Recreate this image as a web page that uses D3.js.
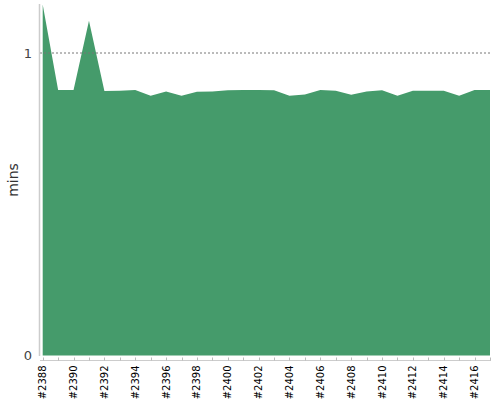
<!DOCTYPE html>
<html><head><meta charset="utf-8">
<script src="https://cdn.jsdelivr.net/npm/d3@7"></script>
<style>body{margin:0;background:#fff}svg{display:block;font-family:"DejaVu Sans",sans-serif}</style>
</head><body><svg id="c" width="500" height="400"></svg>
<script>
const builds = d3.range(2388, 2418).map(n => "#" + n);
const mins = [1.16,0.878,0.878,1.107,0.874,0.875,0.878,0.859,0.873,0.859,0.872,0.873,0.877,0.878,0.878,0.877,0.859,0.863,0.878,0.875,0.862,0.873,0.877,0.859,0.875,0.875,0.875,0.859,0.878,0.878];
const yTicks = [0, 1];

const svg = d3.select("#c");
const x = d3.scalePoint().domain(builds).range([42.7, 490]);
const y = d3.scaleLinear().domain([0, 1.162]).range([355.5, 4]);

svg.append("defs").append("clipPath").attr("id","clip")
  .append("rect").attr("x",40).attr("y",4).attr("width",452).attr("height",352);

svg.append("path").datum(mins)
  .attr("clip-path","url(#clip)")
  .attr("fill","#459b6b")
  .attr("d", d3.area().x((d,i)=>x(builds[i])).y0(y(0)).y1(d=>y(d)));

// grid line at 1
svg.append("line").attr("x1",40).attr("x2",490).attr("y1",y(1)).attr("y2",y(1))
  .attr("stroke","#777").attr("stroke-width",1).attr("stroke-dasharray","2,2");

// y axis
svg.append("line").attr("x1",39.5).attr("x2",39.5).attr("y1",4).attr("y2",356)
  .attr("stroke","#ccc").attr("stroke-width",1.5);
svg.selectAll(".yt").data(yTicks).join("text")
  .attr("x",32).attr("y",d=>y(d)).attr("dy","0.35em")
  .attr("text-anchor","end").attr("font-size",13).attr("fill","#444").text(d=>d);

svg.append("text").attr("transform","translate(18,180) rotate(-90)")
  .attr("text-anchor","middle").attr("font-size",14).attr("fill","#333").text("mins");

// x axis
const xg = svg.append("g").attr("transform","translate(0,360.5)");
xg.append("line").attr("x1",40).attr("x2",491).attr("stroke","#ccc");
xg.selectAll(".tk").data(builds).join("line")
  .attr("x1",d=>Math.round(x(d))+0.5).attr("x2",d=>Math.round(x(d))+0.5).attr("y1",-3).attr("y2",0)
  .attr("stroke","#bbb");
xg.selectAll(".tl").data(builds.filter((d,i)=>i%2===0)).join("text")
  .attr("transform",d=>`translate(${x(d)+3.5},5) rotate(-90)`)
  .attr("text-anchor","end").attr("font-size",10).attr("fill","#000").text(d=>d);
</script></body></html>
